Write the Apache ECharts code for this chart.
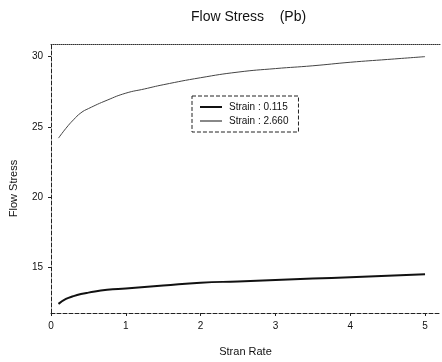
<!DOCTYPE html>
<html>
<head>
<meta charset="utf-8">
<script src="https://cdn.jsdelivr.net/npm/echarts@6/dist/echarts.min.js"></script>
<style>
	html, body { margin: 0; padding: 0; background: #fff; }
	#chart { width: 442px; height: 362px; }
</style>
</head>
<body>
<div id="chart"></div>
<script>
// strain rate values (x)
const strainRate = [0.1, 0.2, 0.3, 0.4, 0.5, 0.75, 1, 1.25, 1.5, 2, 2.5, 3, 3.5, 4, 4.5, 5]
// flow stress for strain 0.115
const stressLow = [12.4, 12.75, 12.95, 13.1, 13.2, 13.4, 13.5, 13.6, 13.7, 13.9, 14.0, 14.1, 14.2, 14.3, 14.4, 14.5]
// flow stress for strain 2.660
const stressHigh = [24.2, 24.9, 25.5, 26.0, 26.3, 26.9, 27.4, 27.7, 28.0, 28.5, 28.9, 29.15, 29.35, 29.6, 29.8, 30.0]
const yTicks = [15, 20, 25, 30]
const xTicks = [0, 1, 2, 3, 4, 5]

const font = 'Liberation Sans'
const pair = (xs, ys) => xs.map((x, i) => [x, ys[i]])

const myChart = echarts.init(document.getElementById('chart'))
myChart.setOption({
	animation: false,
	title: {
		text: 'Flow Stress    (Pb)',
		left: 186,
		top: 5,
		textStyle: { fontFamily: font, fontSize: 14, fontWeight: 'normal', color: '#111' }
	},
	legend: {
		show: true,
		orient: 'vertical',
		left: 192,
		top: 96,
		padding: [6, 10, 6, 8],
		itemGap: 4,
		itemWidth: 22,
		itemHeight: 2,
		borderColor: '#222',
		borderWidth: 1,
		borderType: 'dashed',
		textStyle: { fontFamily: font, fontSize: 10, color: '#111', padding: [0, 0, 0, 2] },
		data: [
			{ name: 'Strain : 0.115', icon: 'rect', itemStyle: { color: '#111' } },
			{ name: 'Strain : 2.660', icon: 'rect', itemStyle: { color: '#888' } }
		]
	},
	grid: { left: 50, top: 44, right: 2, bottom: 47 },
	xAxis: [
		{
			type: 'value',
			min: 0,
			max: 5.2,
			name: 'Stran Rate',
			nameLocation: 'middle',
			nameGap: 33,
			nameTextStyle: { fontFamily: font, fontSize: 11, color: '#111' },
			axisLine: { lineStyle: { color: '#222', type: 'dashed', width: 1 } },
			axisTick: { customValues: xTicks, length: 3, lineStyle: { color: '#222' } },
			axisLabel: { customValues: xTicks, fontFamily: font, fontSize: 10, color: '#111', margin: 8 },
			splitLine: { show: false }
		},
		{
			type: 'value',
			position: 'top',
			min: 0,
			max: 5.2,
			axisLine: { show: true, lineStyle: { color: '#333', type: 'dotted', width: 1 } },
			axisTick: { show: false },
			axisLabel: { show: false },
			splitLine: { show: false }
		}
	],
	yAxis: {
		type: 'value',
		min: 11.75,
		max: 30.9,
		name: 'Flow Stress',
		nameLocation: 'middle',
		nameGap: 32,
		nameTextStyle: { fontFamily: font, fontSize: 11, color: '#111', padding: [0, 20, 0, 0] },
		axisLine: { show: true, lineStyle: { color: '#222', type: 'dashed', width: 1 } },
		axisTick: { show: true, customValues: yTicks, length: 3, lineStyle: { color: '#222' } },
		axisLabel: { customValues: yTicks, fontFamily: font, fontSize: 10, color: '#111', margin: 8 },
		splitLine: { show: false }
	},
	series: [
		{
			name: 'Strain : 0.115',
			type: 'line',
			symbol: 'none',
			smooth: true,
			lineStyle: { color: '#111', width: 2 },
			itemStyle: { color: '#111' },
			data: pair(strainRate, stressLow)
		},
		{
			name: 'Strain : 2.660',
			type: 'line',
			symbol: 'none',
			smooth: true,
			lineStyle: { color: '#444', width: 1 },
			itemStyle: { color: '#444' },
			data: pair(strainRate, stressHigh)
		}
	]
})
</script>
</body>
</html>
